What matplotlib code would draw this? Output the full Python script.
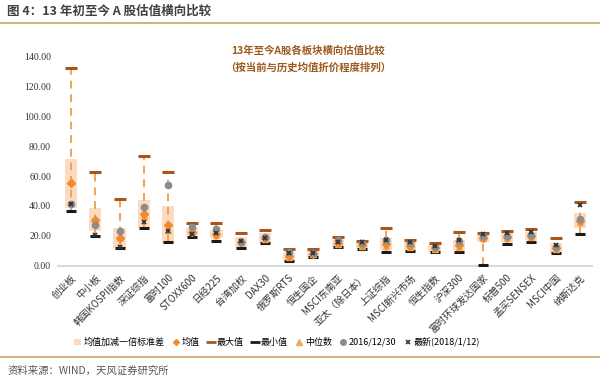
import matplotlib
matplotlib.use("Agg")
import matplotlib.pyplot as plt
from matplotlib.lines import Line2D
from matplotlib.patches import Patch
import numpy as np

plt.rcParams["font.family"] = ["Noto Sans CJK SC", "DejaVu Sans"]

# data (PE levels)
categories = ["创业板", "中小板", "韩国KOSPI指数", "深证综指", "富时100", "STOXX600",
              "日经225", "台湾加权", "DAX30", "俄罗斯RTS", "恒生国企", "MSCI东南亚",
              "亚太（除日本）", "上证综指", "MSCI新兴市场", "恒生指数", "沪深300",
              "富时环球发达国家", "标普500", "孟买SENSEX", "MSCI中国", "纳斯达克"]
mean_vals = [55.1, 30.8, 18.3, 34.6, 27.4, 22.7, 21.2, 16.1, 18.5, 6.2, 8.0, 15.0,
             13.8, 14.4, 13.3, 11.6, 13.8, 18.3, 18.9, 20.0, 11.8, 30.0]
std_vals = [16.3, 7.6, 6.7, 9.2, 12.4, 2.3, 2.6, 3.3, 3.1, 2.4, 2.0, 2.3,
            2.2, 3.9, 2.8, 2.2, 3.3, 2.2, 2.8, 2.7, 3.1, 5.0]
max_vals = [132.4, 62.5, 44.4, 73.4, 62.9, 28.4, 28.8, 22.1, 23.9, 11.0, 11.2, 19.4,
            16.7, 25.4, 17.2, 15.0, 22.3, 22.1, 23.4, 24.5, 18.7, 42.4]
min_vals = [36.6, 19.9, 11.6, 25.0, 16.1, 19.0, 16.7, 11.6, 15.0, 3.1, 6.0, 12.3,
            11.0, 9.4, 9.8, 9.0, 9.4, 0.5, 14.5, 16.1, 8.5, 21.2]
median_vals = [57.0, 31.5, 19.0, 33.0, 24.0, 22.5, 20.5, 16.0, 18.0, 5.8, 7.8, 14.8,
               13.5, 13.0, 12.8, 11.4, 12.5, 18.8, 18.5, 19.5, 11.2, 29.0]
val_20161230 = [41.3, 27.2, 23.4, 39.1, 54.0, 25.7, 24.3, 16.1, 19.0, 9.4, 8.3, 17.2,
                15.0, 17.2, 15.4, 12.3, 16.7, 19.9, 19.9, 20.5, 12.3, 31.0]
val_latest = [41.5, 20.5, 12.5, 29.4, 23.4, 21.5, 21.7, 16.3, 18.3, 8.3, 8.6, 16.2,
              15.8, 17.0, 16.0, 13.3, 17.0, 21.0, 22.0, 22.3, 14.0, 40.6]
yticks = [0, 20, 40, 60, 80, 100, 120, 140]

x = np.arange(len(categories))
mean = np.array(mean_vals)
std = np.array(std_vals)

fig = plt.figure(figsize=(6, 3.84), dpi=100)
ax = fig.add_axes([58 / 600, 0.308, 534 / 600, 0.5645])

ax.bar(x, 2 * std, bottom=mean - std, width=0.5, color="#fbdcc2", zorder=1)
ax.vlines(x, min_vals, max_vals, colors="#f0a358", linestyles=(0, (4, 3)),
          linewidth=1.4, zorder=2)
ax.plot(x, max_vals, "_", color="#a8561b", markersize=8, mew=2.2, zorder=4)
ax.plot(x, min_vals, "_", color="#1a1a1a", markersize=7, mew=2.2, zorder=4)
ax.plot(x, median_vals, "^", color="#f5a860", markersize=4, zorder=5)
ax.plot(x, mean_vals, "D", color="#f08a2a", markersize=3.6, zorder=6)
ax.plot(x, val_20161230, "o", color="#8c8c8c", markersize=4.5, zorder=7)
ax.plot(x, val_latest, "x", color="#333333", markersize=3, mew=1.3, zorder=8)

ax.set_xlim(-0.54, 21.5)
ax.set_ylim(0, 145)
ax.set_yticks(yticks)
ax.set_yticklabels([f"{v:.2f}" for v in yticks], family="Liberation Serif",
                   fontsize=7, color="#333333")
ax.set_xticks(x)
ax.set_xticklabels(categories, rotation=45, ha="right", rotation_mode="anchor",
                   fontsize=7, color="#333333")
ax.tick_params(length=0, pad=5)
for side in ["top", "right", "left"]:
    ax.spines[side].set_visible(False)
ax.spines["bottom"].set_color("#d9d9d9")
ax.spines["bottom"].set_linewidth(1.5)

# inner chart title
fig.text(0.513, 0.868, "13年至今A股各板块横向估值比较", ha="center", va="center",
         fontsize=7.5, color="#9c5a1e", fontweight="bold")
fig.text(0.513, 0.825, "（按当前与历史均值折价程度排列）", ha="center", va="center",
         fontsize=7.5, color="#9c5a1e", fontweight="bold")

handles = [
    Patch(facecolor="#fbdcc2", edgecolor="none"),
    Line2D([], [], marker="D", color="#f08a2a", ls="none", markersize=3),
    Line2D([], [], marker="_", color="#a8561b", ls="none", markersize=7, mew=2),
    Line2D([], [], marker="_", color="#1a1a1a", ls="none", markersize=7, mew=2),
    Line2D([], [], marker="^", color="#f5a860", ls="none", markersize=4),
    Line2D([], [], marker="o", color="#8c8c8c", ls="none", markersize=4),
    Line2D([], [], marker="x", color="#333333", ls="none", markersize=3, mew=1.2),
]
labels = ["均值加减一倍标准差", "均值", "最大值", "最小值", "中位数", "2016/12/30",
          "最新(2018/1/12)"]
fig.legend(handles, labels, loc="center", bbox_to_anchor=(0.462, 0.109), ncol=7,
           frameon=False, fontsize=6.5, handlelength=0.7, handletextpad=0.3,
           columnspacing=0.9)

# page header / footer
fig.text(0.012, 0.972, "图 4：13 年初至今 A 股估值横向比较", ha="left", va="center",
         fontsize=9, fontweight="bold", color="#404040")
fig.add_artist(Line2D([0.0, 1.0], [0.94, 0.94], color="#c9a46a", lw=1.2))
fig.add_artist(Line2D([0.0, 1.0], [0.07, 0.07], color="#c9a46a", lw=1.2))
fig.text(0.012, 0.035, "资料来源：WIND，天风证券研究所", ha="left", va="center",
         fontsize=7.5, color="#555555")

fig.savefig("out.png", dpi=100)
